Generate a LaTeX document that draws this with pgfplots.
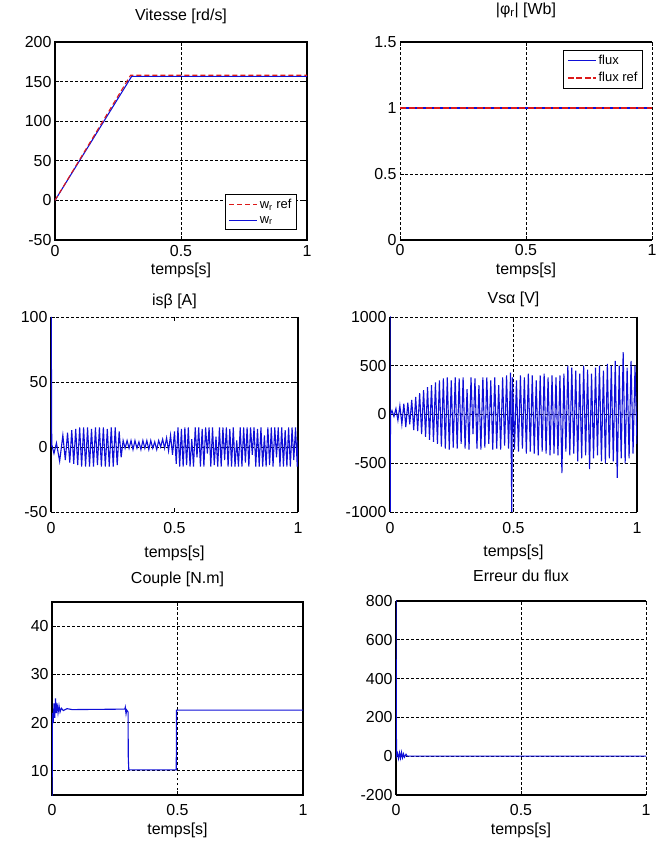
\documentclass[border=0pt]{standalone}
\usepackage{pgfplots}
\pgfplotsset{compat=1.18}
\usepackage{fontspec}
\setmainfont{Liberation Sans}

\definecolor{mblue}{RGB}{15,15,215}
\definecolor{mred}{RGB}{220,25,25}

\pgfplotsset{
  mat/.style={
    scale only axis,
    xmin=0, xmax=1,
    xtick={0,0.5,1}, xticklabels={0,0.5,1},
    grid=major,
    major grid style={black, dash pattern=on 2.5bp off 2.5bp, line width=0.9bp},
    axis line style={black, line width=1.2bp},
    tick style={black, line width=0.8bp},
    major tick length=4bp,
    tick align=inside,
    tick label style={font=\fontsize{16}{19}\selectfont},
    label style={font=\fontsize{16}{19}\selectfont},
    title style={font=\fontsize{16}{19}\selectfont, at={(0.5,1)}, anchor=center},
    xticklabel style={anchor=center},
    xlabel={temps[s]},
    xlabel style={at={(0.5,0)}, anchor=center},
    legend style={font=\fontsize{13}{15}\selectfont, draw=black, line width=1bp,
      inner sep=3bp, row sep=2bp},
    legend cell align=left,
    legend image code/.code={\draw[#1] (0bp,0bp) -- (28bp,0bp);},
    every axis plot/.append style={line width=1.1bp},
  },
}

\begin{document}
\begin{tikzpicture}
\path[use as bounding box] (0,0) rectangle (659bp,846bp);

% --- vitesse
\begin{axis}[mat, at={(55bp,606bp)}, anchor=south west,
  width=252bp, height=198bp,
  ymin=-50, ymax=200, ytick={-50,0,50,100,150,200},
  yticklabels={-50,0,50,100,150,200},
  title={Vitesse [rd/s]}, title style={yshift=20bp},
  xticklabel style={yshift=-11bp}, xlabel style={yshift=-30bp},
  legend style={at={(0.96,0.05)}, anchor=south east},
  reverse legend,
]
\addplot[mblue] coordinates {(0,0) (0.304,156.5) (1,156.5)};
\addlegendentry{w\textsubscript{r}}
\addplot[mred, dash pattern=on 5bp off 3bp] coordinates {(0,0) (0.3,158) (1,158)};
\addlegendentry{w\textsubscript{r} ref}
\end{axis}

% --- flux
\begin{axis}[mat, at={(400bp,606bp)}, anchor=south west,
  width=252bp, height=198bp,
  separate axis lines, y axis line style={draw=none},
  ymin=0, ymax=1.5, ytick={0,0.5,1,1.5},
  yticklabels={0,0.5,1,1.5},
  title={|φ\textsubscript{r}| [Wb]}, title style={yshift=26bp},
  xticklabel style={yshift=-10bp}, xlabel style={yshift=-30bp},
  legend style={at={(0.964,0.96)}, anchor=north east},
]
\addplot[mblue] coordinates {(0,1) (1,1)};
\addlegendentry{flux}
\addplot[mred, line width=1.6bp, dash pattern=on 6bp off 2.5bp] coordinates {(0,1) (1,1)};
\addlegendentry{flux ref}
\end{axis}

% --- courant is beta
\begin{axis}[mat, at={(51bp,334bp)}, anchor=south west,
  width=247bp, height=195bp,
  separate axis lines, x axis line style={draw=none},
  xmajorgrids=false,
  ymin=-50, ymax=100, ytick={-50,0,50,100},
  yticklabels={-50,0,50,100},
  title={isβ [A]}, title style={yshift=10bp},
  xticklabel style={yshift=-16bp}, xlabel style={yshift=-41bp},
]
\addplot[mblue] coordinates {
(0,0) (0.001,100) (0.003,2) (0.012,-5) (0.022,3) (0.035,-11) (0.048,9) (0.058,-10)
(0.067,11) (0.076,-12) (0.084,13) (0.092,-13) (0.100,14) (0.108,-14) (0.116,15)
(0.124,-15) (0.132,15) (0.140,-15) (0.148,15) (0.156,-15) (0.164,14) (0.172,-15)
(0.180,15) (0.188,-14) (0.196,15) (0.204,-15) (0.212,15) (0.220,-15) (0.228,14)
(0.236,-15) (0.244,15) (0.252,-15) (0.260,15) (0.268,-14) (0.276,12) (0.284,-8)
(0.292,5) (0.300,-1) (0.308,5) (0.316,-1) (0.324,5) (0.332,-2) (0.340,5) (0.348,-1)
(0.356,4) (0.364,-2) (0.372,5) (0.380,-1) (0.388,5) (0.396,-2) (0.404,5) (0.412,-1)
(0.420,4) (0.428,-2) (0.436,5) (0.444,0) (0.452,6) (0.460,-1) (0.468,7) (0.476,-3)
(0.484,9) (0.492,-6) (0.500,12) (0.507,-13) (0.514,15) (0.521,-15) (0.528,14)
(0.535,-15) (0.542,15) (0.549,-14) (0.556,15) (0.563,-15) (0.570,6) (0.577,-15)
(0.584,15) (0.591,-8) (0.598,15) (0.605,-15) (0.612,14) (0.619,-15) (0.626,15)
(0.633,-5) (0.640,15) (0.647,-15) (0.654,15) (0.661,-14) (0.668,8) (0.675,-15)
(0.682,15) (0.689,-15) (0.696,15) (0.703,-10) (0.710,15) (0.717,-15) (0.724,14)
(0.731,-15) (0.738,15) (0.745,-15) (0.752,5) (0.759,-15) (0.766,15) (0.773,-15)
(0.780,15) (0.787,-12) (0.794,15) (0.801,-15) (0.808,15) (0.815,-6) (0.822,15)
(0.829,-15) (0.836,14) (0.843,-15) (0.850,15) (0.857,-15) (0.864,9) (0.871,-15)
(0.878,15) (0.885,-14) (0.892,15) (0.899,-15) (0.906,15) (0.913,-8) (0.920,15)
(0.927,-15) (0.934,15) (0.941,-15) (0.948,13) (0.955,-15) (0.962,15) (0.969,-15)
(0.976,15) (0.983,-10) (0.990,15) (0.997,-15) (1.000,5)
};
\end{axis}

% --- tension Vs alpha
\begin{axis}[mat, at={(390bp,334bp)}, anchor=south west,
  width=247bp, height=195bp,
  separate axis lines, x axis line style={draw=none},
  ymin=-1000, ymax=1000, ytick={-1000,-500,0,500,1000},
  yticklabels={-1000,-500,0,500,1000},
  title={Vsα [V]}, title style={yshift=12bp},
  xticklabel style={yshift=-16bp}, xlabel style={yshift=-40bp},
]
\addplot[mblue] coordinates {
(0,1050) (0.001,-1050) (0.002,0) (0.008,40) (0.016,-20) (0.024,60) (0.032,-60)
(0.040,90) (0.048,-100) (0.056,110) (0.064,-130) (0.072,120) (0.080,-100) (0.088,150)
(0.096,-160) (0.104,180) (0.112,-170) (0.120,220) (0.128,-200) (0.136,250) (0.144,-230)
(0.152,280) (0.160,-260) (0.168,300) (0.176,-280) (0.184,330) (0.192,-300) (0.200,350)
(0.208,-330) (0.216,370) (0.224,-350) (0.232,380) (0.240,-360) (0.248,350) (0.256,-340)
(0.264,380) (0.272,-350) (0.280,370) (0.288,-300) (0.296,380) (0.304,-350) (0.312,260)
(0.320,-360) (0.328,380) (0.336,-200) (0.344,370) (0.352,-350) (0.360,300) (0.368,-360)
(0.376,380) (0.384,-340) (0.392,380) (0.400,-300) (0.408,350) (0.416,-360) (0.424,380)
(0.432,-350) (0.440,300) (0.448,-360) (0.456,380) (0.464,-320) (0.472,400) (0.480,-350)
(0.488,430) (0.493,-1000) (0.496,380) (0.504,-360) (0.512,350) (0.520,-380) (0.528,400)
(0.536,-350) (0.544,380) (0.552,-400) (0.560,420) (0.568,-380) (0.576,400) (0.584,-400)
(0.592,350) (0.600,-420) (0.608,400) (0.616,-380) (0.624,420) (0.632,-400) (0.640,380)
(0.648,-420) (0.656,400) (0.664,-400) (0.672,380) (0.680,-420) (0.688,400) (0.696,-600)
(0.704,420) (0.712,-380) (0.720,500) (0.728,-420) (0.736,480) (0.744,-400) (0.752,450)
(0.760,-480) (0.768,420) (0.776,-450) (0.784,500) (0.792,-420) (0.800,460) (0.808,-560)
(0.816,420) (0.824,-450) (0.832,480) (0.840,-420) (0.848,500) (0.856,-480) (0.864,450)
(0.872,-500) (0.880,520) (0.888,-450) (0.896,500) (0.904,-480) (0.912,550) (0.920,-650)
(0.928,500) (0.936,-450) (0.944,640) (0.952,-500) (0.960,480) (0.968,-450) (0.976,550)
(0.984,-400) (0.992,500) (1.000,-300)
};
\end{axis}

% --- couple
\begin{axis}[mat, at={(52bp,51bp)}, anchor=south west,
  width=251bp, height=193bp,
  ymin=5, ymax=45, ytick={10,20,30,40},
  yticklabels={10,20,30,40},
  title={Couple [N.m]}, title style={yshift=17bp},
  xticklabel style={yshift=-15bp}, xlabel style={yshift=-35bp},
]
\addplot[mblue] coordinates {
(0,0) (0.002,22) (0.005,20) (0.008,24) (0.011,21) (0.014,25) (0.017,22) (0.020,24)
(0.024,22) (0.028,23.5) (0.032,22.2) (0.037,23) (0.045,22.5) (0.060,22.9) (0.080,22.7)
(0.290,22.8) (0.292,23.2) (0.295,21.8) (0.298,22.6) (0.303,22.2) (0.304,12.6)
(0.306,10.2) (0.495,10.2) (0.496,22.6) (1,22.6)
};
\end{axis}

% --- erreur
\begin{axis}[mat, at={(396bp,51bp)}, anchor=south west,
  width=250bp, height=194bp,
  axis y line*=left, y axis line style={-},
  ymin=-200, ymax=800, ytick={-200,0,200,400,600,800},
  yticklabels={-200,0,200,400,600,800},
  title={Erreur du flux}, title style={yshift=19bp},
  xticklabel style={yshift=-15bp}, xlabel style={yshift=-35bp},
]
\addplot[mblue] coordinates {
(0,820) (0.002,0) (0.006,15) (0.010,-12) (0.014,18) (0.018,-10) (0.022,20)
(0.026,-8) (0.030,12) (0.034,-5) (0.040,10) (0.045,0) (1,0)
};
\end{axis}
\end{tikzpicture}
\end{document}
